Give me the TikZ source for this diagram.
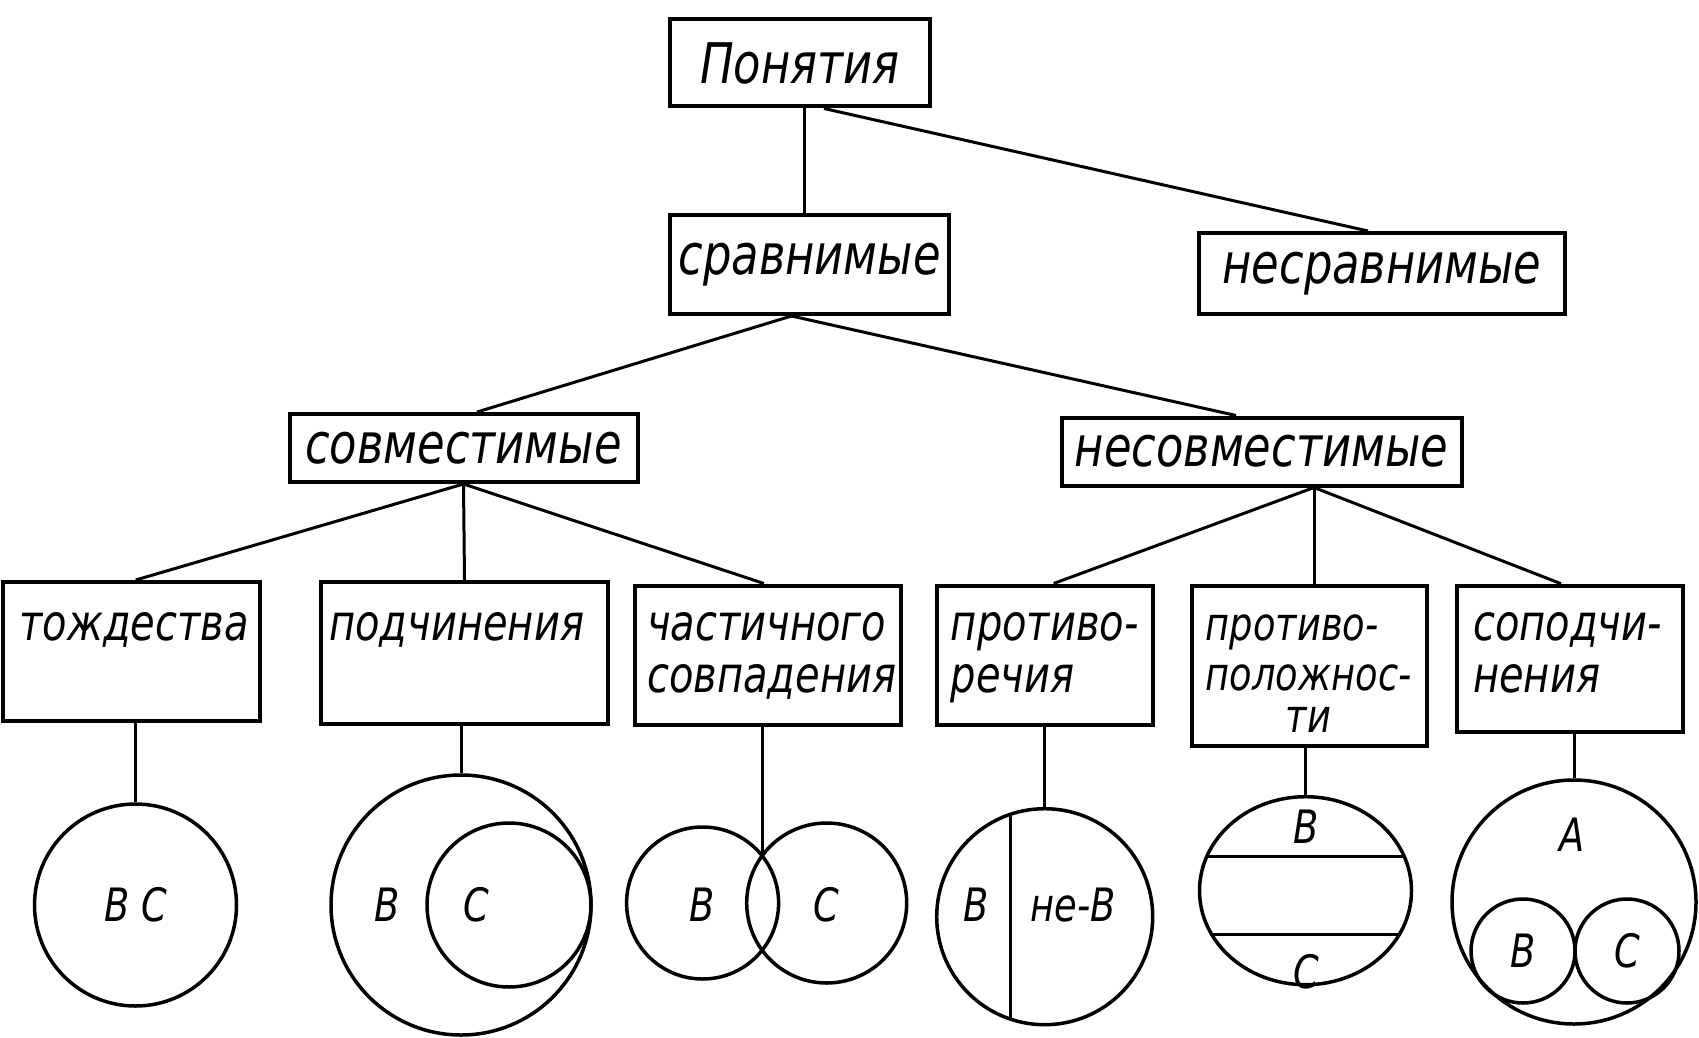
\documentclass[tikz,border=0pt]{standalone}
\usepackage{fontspec}
\setmainfont{DejaVu Sans}[FakeStretch=0.8]
\usetikzlibrary{calc,shapes.geometric}
\begin{document}
\begin{tikzpicture}[x=1pt,y=-1pt,
  box/.style={draw, line width=4pt, rectangle, inner sep=0pt},
  hd/.style={font=\fontsize{56}{56}\selectfont\itshape},
  txt/.style={font=\fontsize{50}{52}\selectfont\itshape, anchor=base west, align=left, inner sep=0pt},
  conn/.style={line width=3pt},
  ring/.style={draw, circle, line width=3.5pt, inner sep=0pt},
  oval/.style={draw, ellipse, line width=3.5pt, inner sep=0pt},
  lbl/.style={font=\fontsize{46}{46}\selectfont\itshape, inner sep=0pt}]
\useasboundingbox (0,0) rectangle (1699,1038);
% header boxes
\node[box, hd, minimum width=260, minimum height=87] (pon) at (800,63) {Понятия};
\node[box, hd, minimum width=279, minimum height=99] (srav) at (809.5,264.5) {сравнимые};
\node[box, hd, minimum width=366, minimum height=81] (nesrav) at (1382,273.5) {несравнимые};
\node[box, hd, minimum width=348, minimum height=68] (sovm) at (463.5,448) {совместимые};
\node[box, hd, minimum width=400, minimum height=68] (nesovm) at (1261.5,451.5) {несовместимые};
% lower boxes
\node[box, minimum width=257, minimum height=139] (tozh) at (131.7,651.5) {};
\node[box, minimum width=287, minimum height=142] (podch) at (464.5,653) {};
\node[box, minimum width=266, minimum height=139] (chast) at (768,655) {};
\node[box, minimum width=216, minimum height=139] (protr) at (1044.7,655) {};
\node[box, minimum width=235, minimum height=160] (protp) at (1309,665.7) {};
\node[box, minimum width=226, minimum height=146] (sopod) at (1570,658.7) {};
% texts of lower boxes
\node[txt] (tozhT) at ($(tozh.north west)+(18,60)$) {тождества};
\node[txt] (podchT) at ($(podch.north west)+(10,60)$) {подчинения};
\node[txt] (chastT) at ($(chast.north west)+(14,109)$) {частичного\\совпадения};
\node[txt] (protrT) at ($(protr.north west)+(16,109)$) {противо-\\речия};
\node[txt, font=\fontsize{46}{50}\selectfont\itshape] (protpT) at ($(protp.north west)+(16,57)$) {\begin{tabular}[t]{@{}l@{}}противо-\\положнос-\\[-8pt]\multicolumn{1}{@{}c@{}}{ти}\end{tabular}};
\node[txt] (sopodT) at ($(sopod.north west)+(18,109)$) {соподчи-\\нения};
% circles
\node[ring, minimum size=202] (c1) at (135.5,905) {};
\node[lbl] (l1) at (135.5,905) {В С};
\node[ring, minimum size=260] (c2) at (461,905) {};
\node[ring, minimum size=164] (c2i) at (509,905) {};
\node[lbl] (l2b) at (387,905) {В};
\node[lbl] (l2c) at (476,905) {С};
\node[ring, minimum size=152] (c3a) at (702.6,903) {};
\node[ring, minimum size=160] (c3b) at (826.7,903) {};
\coordinate (c3top) at (762,855);
\node[lbl] (l3b) at (702,905) {В};
\node[lbl] (l3c) at (826,905) {С};
\node[ring, minimum size=216] (c4) at (1044.7,916.7) {};
\begin{scope}
  \clip (1044.7,916.7) circle [radius=108];
  \draw[conn] (1010.5,780) -- (1010.5,1040);
\end{scope}
\node[lbl] (l4b) at (976,905) {В};
\node[lbl] (l4n) at (1073,905) {не-В};
\node[oval, minimum width=212, minimum height=188] (c5) at (1305.5,890.7) {};
\begin{scope}
  \clip (1305.5,890.7) ellipse [x radius=106, y radius=94];
  \draw[conn] (1190,856.5) -- (1420,856.5);
  \draw[conn] (1190,934.6) -- (1420,934.6);
\end{scope}
\node[lbl] (l5b) at (1306,827) {В};
\node[lbl] (l5c) at (1306,972) {С};
\node[ring, minimum size=244] (c6) at (1574,902) {};
\node[ring, minimum size=104] (c6b) at (1523,951) {};
\node[ring, minimum size=104] (c6c) at (1627,951) {};
\node[lbl] (l6a) at (1572,835) {А};
\node[lbl] (l6b) at (1523,951) {В};
\node[lbl] (l6c) at (1627,951) {С};
% connectors
\draw[conn] ([xshift=4.5]pon.south) -- ([xshift=-5]srav.north);
\draw[conn] ([xshift=24]pon.south) -- ([xshift=-14]nesrav.north);
\draw[conn] ([xshift=-18]srav.south) -- ([xshift=13.5]sovm.north);
\draw[conn] ([xshift=-18]srav.south) -- ([xshift=-25.5]nesovm.north);
\draw[conn] (sovm.south) -- ([xshift=4]tozh.north);
\draw[conn] (sovm.south) -- (podch.north);
\draw[conn] (sovm.south) -- ([xshift=-4]chast.north);
\draw[conn] ([xshift=52.5]nesovm.south) -- ([xshift=9]protr.north);
\draw[conn] ([xshift=52.5]nesovm.south) -- ([xshift=5]protp.north);
\draw[conn] ([xshift=52.5]nesovm.south) -- ([xshift=-9]sopod.north);
\draw[conn] (tozh.south -| c1.north) -- (c1.north);
\draw[conn] (podch.south -| c2.north) -- (c2.north);
\draw[conn] (chast.south -| c3top) -- (c3top);
\draw[conn] (protr.south -| c4.north) -- (c4.north);
\draw[conn] (protp.south -| c5.north) -- (c5.north);
\draw[conn] (sopod.south -| c6.north) -- (c6.north);
\end{tikzpicture}
\end{document}
